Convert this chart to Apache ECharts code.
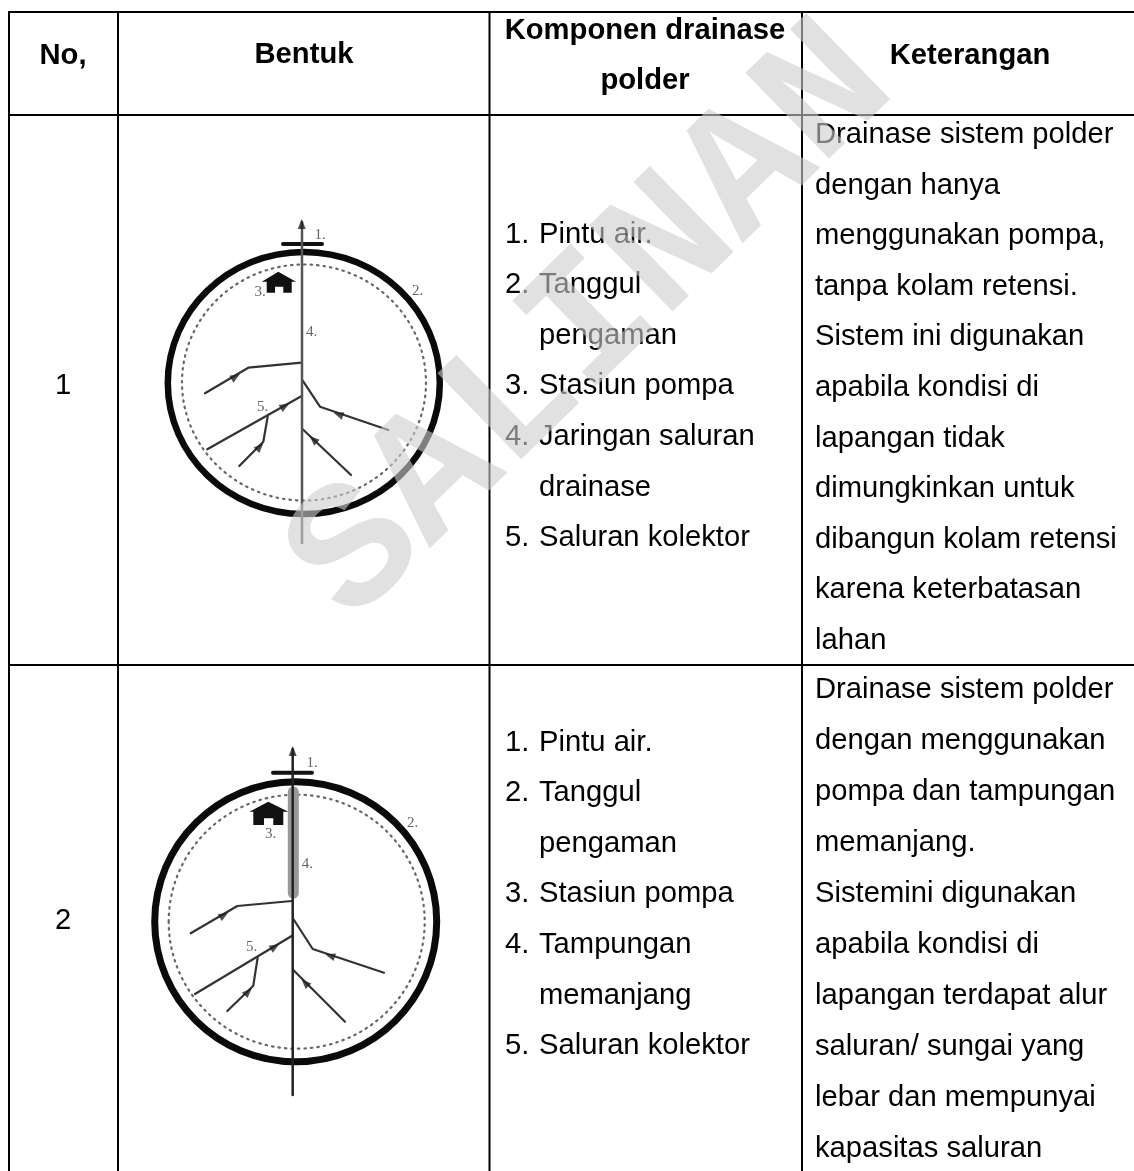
<!DOCTYPE html>
<html>
<head>
<meta charset="UTF-8">
<title>Drainase polder</title>
<script type="text/javascript" src="https://cdn.jsdelivr.net/npm/echarts@6/dist/echarts.min.js"></script>
<style>
html, body { margin: 0; padding: 0; background: #fff; }
#main { width: 1134px; height: 1171px; filter: blur(0.35px); }
</style>
</head>
<body>
<div id="main"></div>
<script type="text/javascript">
// table text
var headers = ['No,', 'Bentuk', 'Komponen drainase', 'polder', 'Keterangan'];
var rowNumbers = ['1', '2'];
var komponen1 = ['1.', 'Pintu air.', '2.', 'Tanggul', 'pengaman', '3.', 'Stasiun pompa', '4.', 'Jaringan saluran', 'drainase', '5.', 'Saluran kolektor'];
var komponen2 = ['1.', 'Pintu air.', '2.', 'Tanggul', 'pengaman', '3.', 'Stasiun pompa', '4.', 'Tampungan', 'memanjang', '5.', 'Saluran kolektor'];
var keterangan1 = ['Drainase sistem polder', 'dengan hanya', 'menggunakan pompa,', 'tanpa kolam retensi.', 'Sistem ini digunakan', 'apabila kondisi di', 'lapangan tidak', 'dimungkinkan untuk', 'dibangun kolam retensi', 'karena keterbatasan', 'lahan'];
var keterangan2 = ['Drainase sistem polder', 'dengan menggunakan', 'pompa dan tampungan', 'memanjang.', 'Sistemini digunakan', 'apabila kondisi di', 'lapangan terdapat alur', 'saluran/ sungai yang', 'lebar dan mempunyai', 'kapasitas saluran'];
var watermark = 'SALINAN';

// table rules
var columnEdges = [9, 118, 489.5, 802];
var rowEdges = [12, 115, 665];

// diagram 1
var rings1 = [[303.8, 383, 136, 131]];
var dots1 = [[304, 382.5, 122, 118]];
var trunk1 = [[302, 222], [302, 543]];
var gate1 = [[283, 244], [322, 244]];
var channels1 = [
    [[205, 393.3], [248.3, 367.7], [301.7, 362.7]],
    [[207.3, 449.3], [301.7, 396]],
    [[239.3, 466], [263.3, 441.7], [267.7, 416.7]],
    [[302.7, 380.7], [320, 406.7], [388.3, 430]],
    [[302.7, 429.3], [351, 475]]
];
var arrows1 = [[301.7, 224, 0], [235.7, 376.7, -59], [285, 406, -60], [260, 446.7, -45], [338.3, 414.3, 71], [313.3, 439.3, 47]];
var house1 = [[278.3, 271.7], [296, 281.7], [291.7, 281.7], [291.7, 292.7], [283.3, 292.7], [283.3, 286.7], [275, 286.7], [275, 292.7], [266.7, 292.7], [266.7, 281.7], [261.7, 281.7]];
var marks1 = [['1.', 320, 235], ['2.', 417.7, 290.7], ['3.', 260, 291.7], ['4.', 311.7, 331.7], ['5.', 262.7, 406.7]];

// diagram 2
var rings2 = [[295.7, 921.7, 141, 140]];
var dots2 = [[296.7, 921.7, 128, 127]];
var trunk2 = [[292.7, 749], [292.7, 1095]];
var gate2 = [[273, 772.7], [312, 772.7]];
var storage2 = [[293.3, 792], [293.3, 893]];
var channels2 = [
    [[190.7, 933.3], [237.3, 906], [291.7, 901]],
    [[195, 994], [291.7, 936]],
    [[227.3, 1011], [253.3, 985.7], [257.7, 957.3]],
    [[294, 920], [312.7, 949], [384, 972.7]],
    [[293.3, 970], [345, 1021.7]]
];
var arrows2 = [[292.7, 751, 0], [224, 915, -59], [275, 946.7, -59], [248.3, 991.7, -45], [330, 955.7, 72], [305, 982.7, 45]];
var house2 = [[268.3, 801.7], [288.3, 811.7], [283.3, 811.7], [283.3, 825], [273.3, 825], [273.3, 818.3], [264, 818.3], [264, 825], [253.3, 825], [253.3, 811.7], [249.3, 811.7]];
var marks2 = [['1.', 312, 763], ['2.', 412.7, 823.3], ['3.', 270.7, 834], ['4.', 307.3, 864], ['5.', 251.7, 947.3]];

var FONT = '"Liberation Sans", Arial, sans-serif';
var bodyFont = '29.2px ' + FONT;
var boldFont = 'bold 29.2px ' + FONT;

function lineSeries(points, width, color, z) {
    return {
        type: 'line', data: points, showSymbol: false, silent: true, z: z || 3,
        lineStyle: { width: width, color: color, cap: 'round', join: 'round' }
    };
}

// ellipses go through the axes as centre + radii
function ringSeries(data, width, color, dash) {
    return {
        type: 'custom', data: data, silent: true, z: 2,
        encode: { x: 0, y: 1 },
        renderItem: function (params, api) {
            var c = api.coord([api.value(0), api.value(1)]);
            var r = api.size([api.value(2), api.value(3)]);
            return {
                type: 'ellipse',
                shape: { cx: c[0], cy: c[1], rx: r[0], ry: r[1] },
                style: { fill: null, stroke: color, lineWidth: width, lineDash: dash || null, lineCap: 'round' }
            };
        }
    };
}

function polygonSeries(points, color) {
    return {
        type: 'custom', data: points, silent: true, z: 4,
        encode: { x: 0, y: 1 },
        renderItem: function (params, api) {
            if (params.dataIndex > 0) return null;
            return {
                type: 'polygon',
                shape: { points: points.map(function (p) { return api.coord(p); }) },
                style: { fill: color }
            };
        }
    };
}

function arrowSeries(data, color) {
    return {
        type: 'scatter', silent: true, z: 5, symbol: 'triangle', symbolSize: [8, 10],
        itemStyle: { color: color },
        data: data.map(function (a) { return { value: [a[0], a[1]], symbolRotate: a[2] }; })
    };
}

// every text item: [text, x, y, font, align, color]
var texts = [];
function put(text, x, y, font, align, color) {
    texts.push([text, x, y, font, align || 'left', color || '#000']);
}
put(headers[0], 63, 56, boldFont, 'center');
put(headers[1], 304, 55, boldFont, 'center');
put(headers[2], 645, 31, boldFont, 'center');
put(headers[3], 645, 81, boldFont, 'center');
put(headers[4], 970, 56, boldFont, 'center');
put(rowNumbers[0], 63, 386, bodyFont, 'center');
put(rowNumbers[1], 63, 921, bodyFont, 'center');

function putKomponen(lines, top) {
    var row = -1;
    lines.forEach(function (t, i) {
        if (/^\d\.$/.test(t)) {
            row++;
            put(t, 505, top + row * 50.6, bodyFont);
        } else {
            if (i > 0 && !/^\d\.$/.test(lines[i - 1])) row++;
            put(t, 539, top + row * 50.6, bodyFont);
        }
    });
}
putKomponen(komponen1, 234.5);
putKomponen(komponen2, 742.5);
keterangan1.forEach(function (t, i) { put(t, 815, 135 + i * 50.6, bodyFont); });
keterangan2.forEach(function (t, i) { put(t, 815, 690 + i * 51, bodyFont); });
marks1.concat(marks2).forEach(function (m) {
    put(m[0], m[1], m[2], '15px "Liberation Serif", serif', 'center', '#666');
});

var tableLines = [];
columnEdges.forEach(function (x) {
    tableLines.push(lineSeries([[x, rowEdges[0]], [x, 1171]], 2, '#000', 6));
});
rowEdges.forEach(function (y) {
    tableLines.push(lineSeries([[columnEdges[0], y], [1134, y]], 2, '#000', 6));
});

var series = tableLines.concat([
    ringSeries(rings1, 6.5, '#0a0a0a'),
    ringSeries(rings2, 7, '#0a0a0a'),
    ringSeries(dots1, 2.2, '#666', [1.5, 5]),
    ringSeries(dots2, 2.2, '#666', [1.5, 5]),
    lineSeries(storage2, 11, '#999'),
    lineSeries(trunk1, 2.5, '#555', 4),
    lineSeries(trunk2, 2.5, '#222', 4),
    lineSeries(gate1, 4, '#111'),
    lineSeries(gate2, 4, '#111'),
    polygonSeries(house1, '#111'),
    polygonSeries(house2, '#111'),
    arrowSeries(arrows1, '#222'),
    arrowSeries(arrows2, '#222')
]);
channels1.concat(channels2).forEach(function (c) {
    series.push(lineSeries(c, 2.2, '#333'));
});

// all text
series.push({
    type: 'custom', silent: true, z: 8,
    data: texts.map(function (t) { return [t[1], t[2]]; }),
    encode: { x: 0, y: 1 },
    renderItem: function (params, api) {
        var t = texts[params.dataIndex];
        var c = api.coord([api.value(0), api.value(1)]);
        return {
            type: 'text', x: c[0], y: c[1],
            style: { text: t[0], font: t[3], fill: t[5], align: t[4], verticalAlign: 'middle' }
        };
    }
});

// watermark lies over everything, semi transparent
series.push({
    type: 'custom', silent: true, z: 20,
    data: [[593, 325]],
    encode: { x: 0, y: 1 },
    renderItem: function (params, api) {
        var c = api.coord([api.value(0), api.value(1)]);
        return {
            type: 'text', x: c[0], y: c[1], rotation: 44.3 * Math.PI / 180,
            style: {
                text: watermark, font: 'bold 182px "Liberation Mono", monospace',
                fill: 'rgba(205,205,205,0.6)', align: 'center', verticalAlign: 'middle'
            }
        };
    }
});

var myChart = echarts.init(document.getElementById('main'));
myChart.setOption({
    animation: false,
    backgroundColor: '#fff',
    grid: { left: 0, right: 0, top: 0, bottom: 0 },
    xAxis: { type: 'value', min: 0, max: 1134, show: false },
    yAxis: { type: 'value', min: 0, max: 1171, inverse: true, show: false },
    series: series
});
</script>
</body>
</html>
